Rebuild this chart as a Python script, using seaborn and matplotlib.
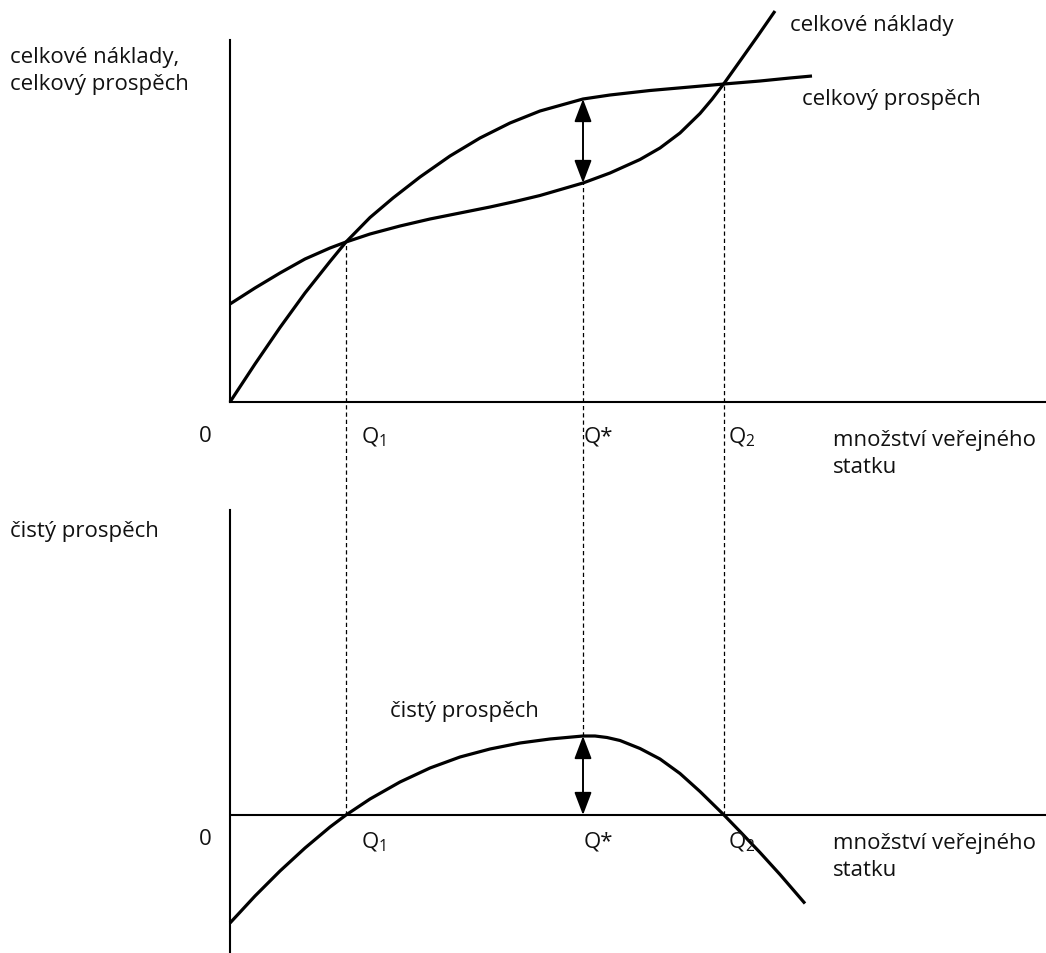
import numpy as np
import pandas as pd
import matplotlib
matplotlib.use("Agg")
import matplotlib.pyplot as plt
import seaborn as sns

# ---- data (x = quantity, y = value) ----
quantity_benefit = [0.0, 0.25, 0.5, 0.75, 1.0, 1.16, 1.4, 1.63, 1.9, 2.2, 2.5, 2.8,
                    3.1, 3.53, 3.8, 4.2, 4.6, 4.94, 5.3, 5.6, 5.82]
total_benefit = [0.0, 0.38, 0.745, 1.09, 1.405, 1.60, 1.845, 2.04, 2.25, 2.46, 2.64,
                 2.79, 2.91, 3.03, 3.07, 3.115, 3.15, 3.18, 3.21, 3.24, 3.26]

quantity_cost = [0.0, 0.25, 0.5, 0.75, 1.0, 1.16, 1.4, 1.7, 2.0, 2.3, 2.6, 2.85, 3.1,
                 3.53, 3.8, 4.1, 4.3, 4.5, 4.7, 4.82, 4.94, 5.1, 5.27, 5.45]
total_cost = [0.98, 1.14, 1.29, 1.43, 1.54, 1.60, 1.68, 1.76, 1.83, 1.89, 1.95, 2.005,
              2.065, 2.19, 2.29, 2.425, 2.54, 2.69, 2.885, 3.027, 3.185, 3.41, 3.65, 3.91]

quantity_net = [0.0, 0.25, 0.5, 0.75, 1.0, 1.16, 1.4, 1.7, 2.0, 2.3, 2.6, 2.9, 3.2,
                3.53, 3.65, 3.77, 3.9, 4.1, 4.3, 4.5, 4.7, 4.94, 5.1, 5.3, 5.5, 5.75]
net_benefit = [-1.08, -0.81, -0.56, -0.33, -0.12, 0.0, 0.16, 0.33, 0.47, 0.58, 0.66,
               0.72, 0.76, 0.79, 0.79, 0.775, 0.745, 0.665, 0.56, 0.415, 0.235, 0.0,
               -0.165, -0.375, -0.595, -0.885]

q_marks = [1.16, 3.53, 4.94]
q_labels = ["Q$_1$", "Q*", "Q$_2$"]

top_ylabel = "celkové náklady,\ncelkový prospěch"
cost_label = "celkové náklady"
benefit_label = "celkový prospěch"
x_label = "množství veřejného\nstatku"
bottom_ylabel = "čistý prospěch"
net_label = "čistý prospěch"

# ---- style ----
sns.set_theme(style="white")
plt.rcParams["font.family"] = ["Open Sans", "DejaVu Sans"]
plt.rcParams["mathtext.default"] = "regular"

W, H = 1046, 954
fig = plt.figure(figsize=(W / 100, H / 100), dpi=100)

def fx(px):
    return px / W

def fy(py):
    return 1 - py / H

ax_top = fig.add_axes([fx(230), fy(403), (W - 230) / W, 403 / H])
ax_bot = fig.add_axes([fx(230), 0, (W - 230) / W, fy(403)])

for ax in (ax_top, ax_bot):
    ax.set_xlim(0, 8.16)
    ax.set_xticks([])
    ax.set_yticks([])
    ax.patch.set_alpha(0)
    for s in ("top", "right"):
        ax.spines[s].set_visible(False)
    for s in ("left", "bottom"):
        ax.spines[s].set_color("black")
        ax.spines[s].set_linewidth(1.5)

ax_top.set_ylim(0, 4.03)
ax_top.spines["left"].set_bounds(0, 3.62)
ax_bot.set_ylim(-1.38, 4.13)
ax_bot.spines["bottom"].set_visible(False)
ax_bot.spines["left"].set_bounds(-1.38, 3.05)
ax_bot.axhline(0, color="black", lw=1.5)

curve_kw = dict(color="black", linewidth=2.3, estimator=None, legend=False)
sns.lineplot(x=quantity_benefit, y=total_benefit, ax=ax_top, **curve_kw)
sns.lineplot(x=quantity_cost, y=total_cost, ax=ax_top, **curve_kw)
sns.lineplot(x=quantity_net, y=net_benefit, ax=ax_bot, **curve_kw)
for ax in (ax_top, ax_bot):
    for ln in ax.get_lines():
        ln.set_solid_capstyle("butt")
        ln.set_solid_joinstyle("round")
        ln.set_clip_on(False)

dash_kw = dict(color="black", lw=0.9, linestyle=(0, (3.4, 2.4)))
q1, qs, q2 = q_marks
b_q1 = np.interp(q1, quantity_benefit, total_benefit)
c_qs = np.interp(qs, quantity_cost, total_cost)
b_qs = np.interp(qs, quantity_benefit, total_benefit)
b_q2 = np.interp(q2, quantity_benefit, total_benefit)
n_qs = np.interp(qs, quantity_net, net_benefit)

ax_top.plot([q1, q1], [0, b_q1], **dash_kw)
ax_top.plot([qs, qs], [0, c_qs], **dash_kw)
ax_top.plot([q2, q2], [0, b_q2], **dash_kw)
ax_bot.plot([q1, q1], [0, 4.13], **dash_kw)
ax_bot.plot([qs, qs], [n_qs, 4.13], **dash_kw)
ax_bot.plot([q2, q2], [0, 4.13], **dash_kw)

arrow_kw = dict(arrowstyle="<|-|>,head_length=1.0,head_width=0.38",
                mutation_scale=14, lw=1.4, color="black", shrinkA=0, shrinkB=0)
ax_top.annotate("", xy=(qs, c_qs), xytext=(qs, b_qs), arrowprops=arrow_kw)
ax_bot.annotate("", xy=(qs, 0), xytext=(qs, n_qs), arrowprops=arrow_kw)

# ---- texts ----
fs = 16
tc = "#111111"

def t(px, py, s, ha="left", va="center", **kw):
    fig.text(fx(px), fy(py), s, ha=ha, va=va, fontsize=fs, color=tc, **kw)

t(10, 71, top_ylabel, linespacing=1.36)
t(790, 25, cost_label)
t(802, 100, benefit_label)
t(205, 437, "0", ha="center")
t(833, 454, x_label, linespacing=1.36)

q_px = [374, 598, 742]
for px, lab in zip(q_px, q_labels):
    t(px, 437, lab, ha="center")

t(10, 532, bottom_ylabel)
t(390, 712, net_label)
t(205, 840, "0", ha="center")
for px, lab in zip(q_px, q_labels):
    t(px, 842, lab, ha="center")
t(833, 857, x_label, linespacing=1.36)

fig.savefig("out.png", dpi=100)
